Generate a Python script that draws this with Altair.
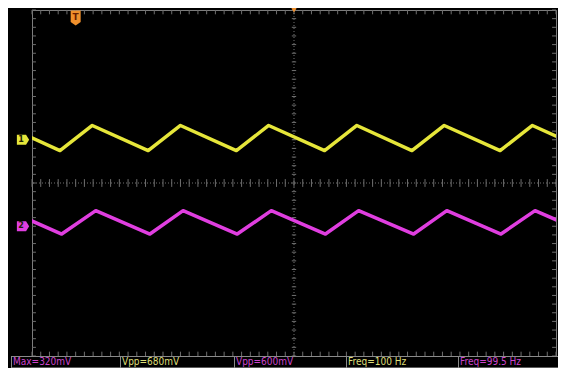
import altair as alt
import numpy as np
import pandas as pd

# ---- data (time in ms, voltage in V, 1 V/div, 5 ms/div) ----
ch1_t = [-33.1, -26.8, -23.1, -16.7, -13.0, -6.6, -2.9, 3.5, 7.2, 13.5, 17.2, 23.6, 27.3, 33.7]
ch1_v = [0.33, -0.25, 0.33, -0.25, 0.33, -0.25, 0.33, -0.25, 0.33, -0.25, 0.33, -0.25, 0.33, -0.25]
ch2_t = [-32.7, -26.6, -22.7, -16.5, -12.7, -6.5, -2.6, 3.6, 7.4, 13.7, 17.5, 23.7, 27.6, 33.8]
ch2_v = [0.36, -0.18, 0.36, -0.18, 0.36, -0.18, 0.36, -0.18, 0.36, -0.18, 0.36, -0.18, 0.36, -0.18]
ch_offsets = {"CH1": 1.0, "CH2": -1.0}  # channel position in divisions

status_labels = ["Max=320mV", "Vpp=680mV", "Vpp=600mV", "Freq=100 Hz", "Freq=99.5 Hz"]
status_channels = ["CH2", "CH1", "CH2", "CH1", "CH2"]
trigger_time = -25.0

YEL = "#e6e63a"
MAG = "#e03ee0"
YEL_T = "#dede78"
MAG_T = "#cc44cc"
ORANGE = "#f0902c"
GRID = "#565656"
TICK = "#6e6e6e"

W, H = 524, 346
xs = alt.Scale(domain=[-30, 30], nice=False, zero=False)
ys = alt.Scale(domain=[-4, 4], nice=False, zero=False)

tr = pd.concat([
    pd.DataFrame({"t": ch1_t, "pos": np.array(ch1_v) + ch_offsets["CH1"], "ch": "CH1"}),
    pd.DataFrame({"t": ch2_t, "pos": np.array(ch2_v) + ch_offsets["CH2"], "ch": "CH2"}),
])

traces = alt.Chart(tr).mark_line(strokeWidth=3.5, clip=True, strokeJoin="round").encode(
    x=alt.X("t:Q", scale=xs, axis=alt.Axis(values=list(range(-30, 31, 5)), grid=True, gridDash=[1, 3],
                                           gridColor=GRID, gridWidth=1, labels=False, ticks=False,
                                           domain=False, title=None)),
    y=alt.Y("pos:Q", scale=ys, axis=alt.Axis(values=list(range(-4, 5)), grid=True, gridDash=[1, 3],
                                             gridColor=GRID, gridWidth=1, labels=False, ticks=False,
                                             domain=False, title=None)),
    color=alt.Color("ch:N", scale=alt.Scale(domain=["CH1", "CH2"], range=[YEL, MAG]), legend=None),
)

# ---- graticule minor ticks (decoration) ----
rows = []
for x in np.arange(-30, 30.01, 1.0):
    rows.append((x, x, -0.09, 0.09))      # centre horizontal
    rows.append((x, x, 4.0, 3.9))         # top border
    rows.append((x, x, -4.0, -3.9))       # bottom border
for y in np.arange(-4, 4.01, 0.2):
    rows.append((-0.25, 0.25, y, y))      # centre vertical
    rows.append((-30, -29.55, y, y))      # left border
    rows.append((29.55, 30, y, y))        # right border
tk = pd.DataFrame(rows, columns=["x", "x2", "y", "y2"])
ticks = alt.Chart(tk).mark_rule(color=TICK, strokeWidth=1).encode(
    x=alt.X("x:Q", scale=xs, axis=None), x2="x2:Q",
    y=alt.Y("y:Q", scale=ys, axis=None), y2="y2:Q",
)
centre = alt.Chart(pd.DataFrame({"a": [0]})).mark_rule(color="#707070", strokeDash=[1, 2]).encode(
    y=alt.Y("a:Q", scale=ys, axis=None))
centre_v = alt.Chart(pd.DataFrame({"a": [0]})).mark_rule(color="#707070", strokeDash=[1, 2]).encode(
    x=alt.X("a:Q", scale=xs, axis=None))

layers = [ticks, centre, centre_v, traces]

# ---- trigger markers ----
one = pd.DataFrame({"a": [0]})
pent_down = "M-1,-1.5 L1,-1.5 L1,0.8 L0,1.5 L-1,0.8 Z"
layers.append(alt.Chart(one).mark_point(shape=pent_down, size=100, filled=True, opacity=1,
                                        color=ORANGE, clip=False).encode(
    x=alt.X("v:Q", scale=xs, axis=None), y=alt.value(8)).transform_calculate(v=str(trigger_time)))
layers.append(alt.Chart(one).mark_text(text="T", font="DejaVu Sans", fontSize=9, fontWeight="bold",
                                       color="#6a1e00", baseline="middle", align="center").encode(
    x=alt.X("v:Q", scale=xs, axis=None), y=alt.value(7)).transform_calculate(v=str(trigger_time)))
layers.append(alt.Chart(one).mark_point(shape="triangle-down", size=36, filled=True, opacity=1,
                                        color=ORANGE, clip=False).encode(
    x=alt.X("a:Q", scale=xs, axis=None), y=alt.value(0)))

# ---- channel markers ----
pent_right = "M-1,-0.8 L0.5,-0.8 L1,0 L0.5,0.8 L-1,0.8 Z"
for ch, col, lab in [("CH1", YEL, "1"), ("CH2", MAG, "2")]:
    d = pd.DataFrame({"p": [ch_offsets[ch]]})
    layers.append(alt.Chart(d).mark_point(shape=pent_right, size=150, filled=True, opacity=1,
                                          color=col, clip=False).encode(
        x=alt.value(-9), y=alt.Y("p:Q", scale=ys, axis=None)))
    layers.append(alt.Chart(d).mark_text(text=lab, font="DejaVu Sans", fontSize=8, fontWeight="bold",
                                         color="#202000", baseline="middle", align="center").encode(
        x=alt.value(-11), y=alt.Y("p:Q", scale=ys, axis=None)))

# ---- status bar ----
box_x = [-21, 88, 202, 314, 426]
layers.append(alt.Chart(one).mark_rule(color="#8a8a8a", strokeWidth=1, clip=False).encode(
    x=alt.value(-21), x2=alt.value(W + 2), y=alt.value(H + 0.5)))
layers.append(alt.Chart(one).mark_rule(color="#5a5a5a", strokeWidth=1, clip=False).encode(
    x=alt.value(-21), x2=alt.value(W + 2), y=alt.value(H + 11.5)))
for bx, lab, ch in zip(box_x, status_labels, status_channels):
    layers.append(alt.Chart(one).mark_rule(color="#8a8a8a", strokeWidth=1, clip=False).encode(
        x=alt.value(bx + 0.5), y=alt.value(H), y2=alt.value(H + 12)))
    layers.append(alt.Chart(one).mark_text(text=lab, font="DejaVu Sans Condensed", fontSize=10,
                                           color=MAG_T if ch == "CH2" else YEL_T,
                                           align="left", baseline="middle").encode(
        x=alt.value(bx + 2), y=alt.value(H + 6)))

chart = alt.layer(*layers).properties(
    width=W, height=H,
    background="black",
    padding={"left": 24, "top": 2, "right": 2, "bottom": 12},
    autosize=alt.AutoSizeParams(type="none"),
).configure_view(fill="black", stroke="#7c7c7c", strokeWidth=1)

chart.save("out.html", embed_options={"renderer": "svg", "actions": False})
